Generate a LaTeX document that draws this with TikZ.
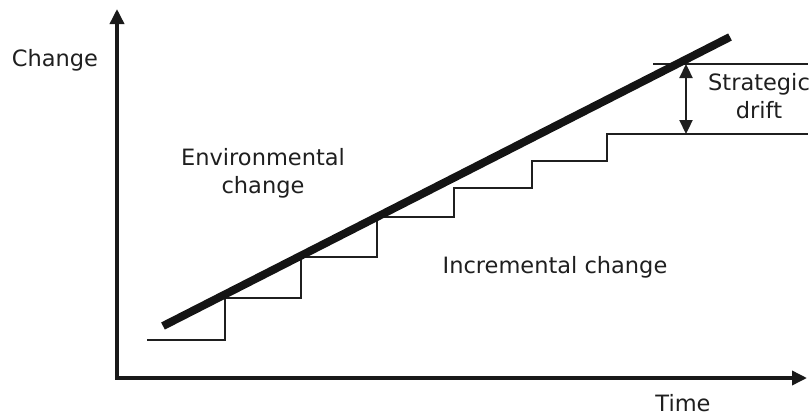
\documentclass[tikz,border=0pt]{standalone}
\usepackage{fontspec}
\setmainfont{DejaVu Sans}
\usetikzlibrary{arrows.meta}
\begin{document}
\begin{tikzpicture}[x=1pt,y=-1pt,
  axis/.style={line width=3.5pt,draw=black!90,{Triangle[length=15pt,width=14pt]}-{Triangle[length=15pt,width=14pt]}},
  trend/.style={line width=8pt,draw=black!92},
  stair/.style={line width=2.3pt,draw=black!88},
  gap/.style={line width=2.3pt,draw=black!88,{Triangle[length=14pt,width=13pt]}-{Triangle[length=14pt,width=13pt]}},
  lbl/.style={font=\fontsize{22.5}{28}\selectfont,text=black!88,inner sep=0pt,anchor=base,align=center}]
\useasboundingbox (0,0) rectangle (811,415);
% axes
\coordinate (ytop) at (117,9);
\coordinate (origin) at (117,378);
\coordinate (xend) at (807,378);
\draw[axis] (ytop) -- (origin) -- (xend);
% staircase
\coordinate (s0) at (147,340);
\coordinate (s1) at (225,298);
\coordinate (s2) at (301,257);
\coordinate (s3) at (377,217);
\coordinate (s4) at (454,188);
\coordinate (s5) at (532,161);
\coordinate (s6) at (607,134);
\coordinate (s7) at (808,134);
\draw[stair] (s0) -| (s1) -| (s2) -| (s3) -| (s4) -| (s5) -| (s6) -- (s7);
% top reference line
\coordinate (t0) at (653,64);
\coordinate (t1) at (808,64);
\draw[stair] (t0) -- (t1);
% trend line
\coordinate (e0) at (163,326);
\coordinate (e1) at (730,37);
\draw[trend] (e0) -- (e1);
% drift arrow
\coordinate (d0) at (686,64);
\coordinate (d1) at (686,134);
\draw[gap] (d0) -- (d1);
% labels
\node[lbl] (change) at (55,66) {Change};
\node[lbl] (time) at (683,411) {Time};
\node[lbl] (env) at (263,193) {Environmental\\change};
\node[lbl] (inc) at (555,273) {Incremental change};
\node[lbl] (drift) at (759,118) {Strategic\\drift};
\end{tikzpicture}
\end{document}
